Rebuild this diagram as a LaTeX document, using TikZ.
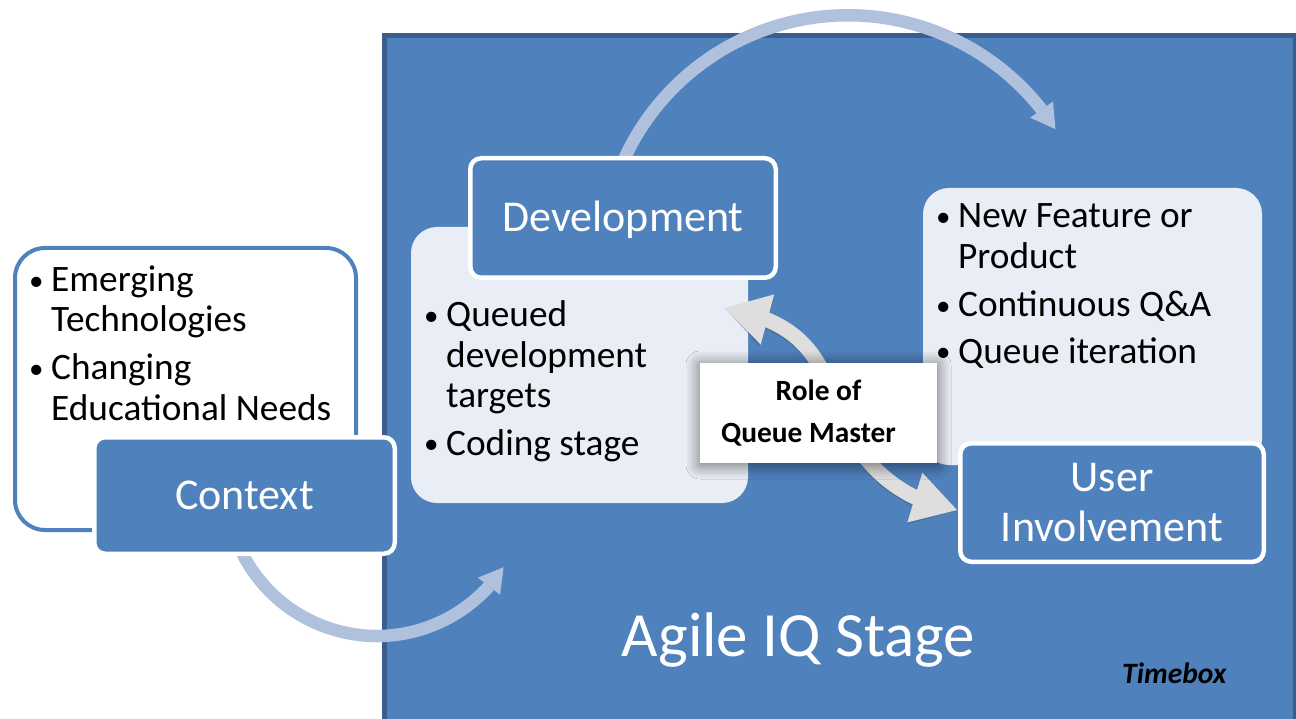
\documentclass[tikz,border=0pt]{standalone}
\usepackage{fontspec}
\setmainfont{Carlito}
\usetikzlibrary{arrows.meta,bending,shadows.blur}
\definecolor{accent}{HTML}{4F81BD}
\definecolor{accentdark}{HTML}{395E8C}
\definecolor{panelfill}{HTML}{E9EEF6}
\definecolor{arcblue}{RGB}{176,193,221}
\definecolor{arrowgray}{HTML}{DEDEDE}
\newcommand\blist[1]{\begin{tabular}[t]{@{}l@{}l@{}}#1\end{tabular}}
\newcommand\bul{\makebox[22pt][l]{\raisebox{1.5pt}{\fontsize{29}{29}\selectfont\textbullet}}}
\begin{document}
\begin{tikzpicture}[x=1pt,y=-1pt,
  hbox/.style={draw=white, line width=4.5pt, fill=accent, rounded corners=11pt,
    text=white, font=\fontsize{44}{50}\selectfont, align=center, inner sep=0pt},
  panelbox/.style={fill=panelfill, rounded corners=26pt, inner sep=0pt},
  bitem/.style={anchor=base west, inner sep=0pt, text=black,
    font=\fontsize{37.3}{40.5}\selectfont},
  arcarrow/.style={draw=arcblue, line width=12.5pt,
    -{Triangle[length=24pt,width=28pt,line width=0pt]}},
  qmarrow/.style={draw=arrowgray, line width=15pt,
    {Triangle[length=44pt,width=52pt,line width=0pt]}-{Triangle[length=44pt,width=52pt,line width=0pt]}},
  rolebox/.style={fill=white, minimum width=237pt, minimum height=100pt, inner sep=0pt,
    align=center, font=\bfseries\fontsize{29.4}{41.7}\selectfont,
    blur shadow={shadow xshift=0pt, shadow yshift=-2pt, shadow blur radius=14pt,
      shadow blur steps=12, shadow opacity=55}}
]
\useasboundingbox (0,0) rectangle (1296,719);

% stage container
\node[draw=accentdark, fill=accent, line width=5pt, anchor=north west,
  minimum width=911pt, minimum height=720pt, inner sep=0pt] (stage) at (382,33.5) {};

% circular arrows
\coordinate (topstart) at (616.8,177.2);
\draw[arcarrow] (topstart) arc[start angle=160, end angle=32.5, radius=246pt];
\coordinate (botstart) at (240.1,548.8);
\draw[arcarrow] (botstart) arc[start angle=-155, end angle=-33, radius=151pt];

% context
\node[draw=accent, fill=white, line width=4pt, rounded corners=30pt,
  minimum width=341pt, minimum height=282pt, inner sep=0pt] (ctxpanel) at (185.5,389) {};
\node[bitem] (ctx1) at (29,291.5) {\blist{\bul&Emerging\\&Technologies}};
\node[bitem] (ctx2) at (29,379.5) {\blist{\bul&Changing\\&Educational Needs}};
\node[hbox, minimum width=300.5pt, minimum height=116.5pt] (context) at (244.5,495.5) {Context};

% development
\node[panelbox, minimum width=337pt, minimum height=276pt] (devpanel) at (579.5,365) {};
\node[bitem] (dev1) at (424,326.7) {\blist{\bul&Queued\\&development\\&targets}};
\node[bitem] (dev2) at (424,455) {\blist{\bul&Coding stage}};
\node[hbox, minimum width=305.5pt, minimum height=119.5pt, text depth=3pt] (dev) at (623,218) {Development};

% user involvement
\node[panelbox, minimum width=339pt, minimum height=277pt] (userpanel) at (1092.5,326.5) {};
\node[bitem] (usr1) at (936,228) {\blist{\bul&New Feature or\\&Product}};
\node[bitem] (usr2) at (936,316.7) {\blist{\bul&Continuous Q\&A}};
\node[bitem] (usr3) at (936,363) {\blist{\bul&Queue iteration}};

% queue master double arrow
\coordinate (qa) at (725,308);
\coordinate (qm) at (835,400);
\coordinate (qb) at (957,510);
\begin{scope}[transparency group, opacity=0.35, shift={(2,4)}]
  \draw[qmarrow, draw=black!70] (qa) .. controls (790,320) and (815,345) .. (qm)
     .. controls (850,450) and (890,500) .. (qb);
\end{scope}
\draw[qmarrow] (qa) .. controls (790,320) and (815,345) .. (qm)
     .. controls (850,450) and (890,500) .. (qb);

\node[hbox, minimum width=303.5pt, minimum height=118.5pt] (user) at (1112,502.5) {User\\Involvement};

\node[rolebox] (role) at (818.5,413) {Role of\\Queue Master\hspace*{20pt}};

% labels
\node[anchor=base, inner sep=0pt, text=white, font=\fontsize{63}{70}\selectfont] (stagelabel) at (798.5,656.7) {Agile IQ Stage};
\node[anchor=base west, inner sep=0pt, font=\bfseries\itshape\fontsize{29.5}{32}\selectfont] (timebox) at (1122,683) {Timebox};
\end{tikzpicture}
\end{document}
